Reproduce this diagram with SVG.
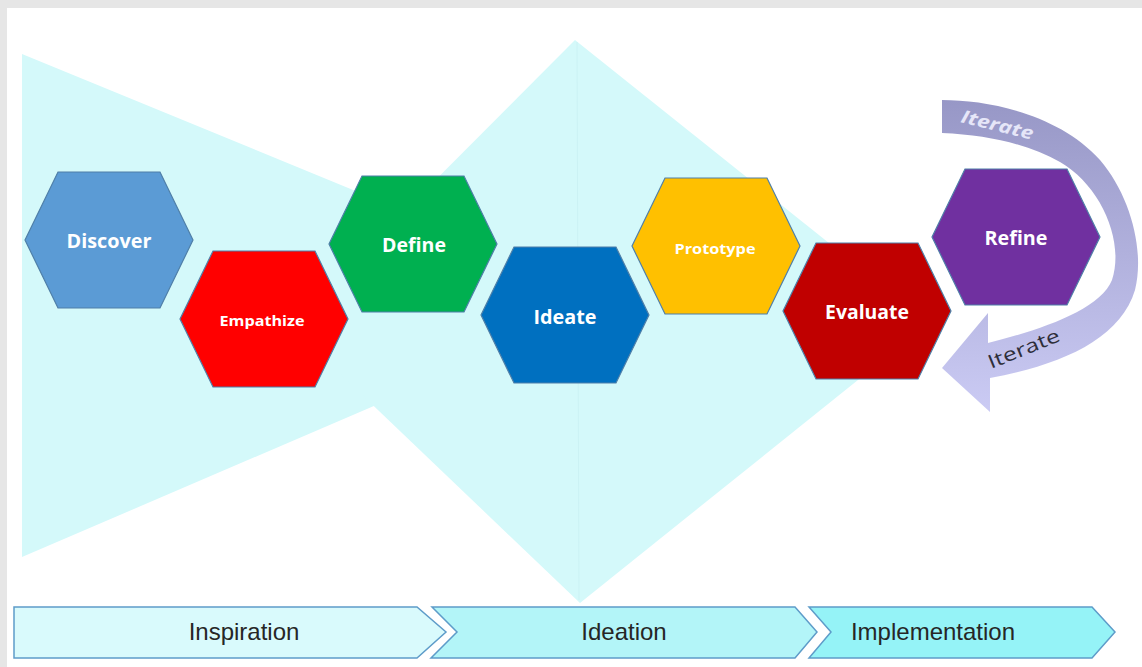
<svg xmlns="http://www.w3.org/2000/svg" width="1142" height="667" viewBox="0 0 1142 667">
<style>
.hex{stroke:#4F7FA8;stroke-width:1.2}
.lbl{font-family:"Open Sans","Noto Sans","Liberation Sans",sans-serif;font-weight:700;fill:#FFFFFF;text-anchor:middle}
.big{font-size:19px}
.small{font-size:14px}
.chev{stroke:#5E9CC9;stroke-width:1.5}
.phase{font-family:"Liberation Sans",Arial,sans-serif;font-size:24px;fill:#262626;text-anchor:middle}
.bg{fill:#D4F9FA}
</style>
<defs>
<polygon id="hex" points="-84,0 -51,-68 51,-68 84,0 51,68 -51,68"/>
<linearGradient id="iterGrad" gradientUnits="userSpaceOnUse" x1="0" y1="100" x2="0" y2="412">
<stop offset="0" stop-color="#9797C6"/>
<stop offset="1" stop-color="#CBCBF4"/>
</linearGradient>
</defs>

<rect x="0" y="0" width="1142" height="667" fill="#E6E6E6"/>
<rect x="7" y="8" width="1135" height="659" fill="#FFFFFF"/>

<g id="background">
<polygon class="bg" points="22,54 22,557 621,300"/>
<polygon class="bg" points="290,326 575,40 929,323 580,603"/>
<line x1="577" y1="42" x2="579" y2="600" stroke="#CBF2F4" stroke-width="1"/>
</g>

<g id="phases">
<g id="phase-inspiration">
<polygon class="chev" fill="#D9FAFC" points="14,607 417,607 446,632 417,658 14,658"/>
<text class="phase" x="244" y="640">Inspiration</text>
</g>
<g id="phase-ideation">
<polygon class="chev" fill="#B3F5F8" points="432,607 795,607 817,632 795,658 431,658 457,632"/>
<text class="phase" x="624" y="640">Ideation</text>
</g>
<g id="phase-implementation">
<polygon class="chev" fill="#95F3F7" points="809,607 1092,607 1115,632 1092,658 809,658 831,632"/>
<text class="phase" x="933" y="640">Implementation</text>
</g>
</g>

<g id="connectors">
<path d="M942,100 C990,100 1060,115 1100,160 C1130,195 1145,250 1135,290 C1120,340 1060,365 990,378 L990,412 L942,368 L988,313 L988,343 C1040,330 1100,310 1112,280 C1125,240 1100,185 1060,162 C1030,145 990,135 942,133 Z" fill="url(#iterGrad)"/>
<text transform="translate(960,122) rotate(14)" font-family="'Open Sans','Noto Sans',sans-serif" font-style="italic" font-weight="700" font-size="18" fill="#E6E6F8" textLength="74" lengthAdjust="spacingAndGlyphs">Iterate</text>
<text transform="translate(991,369) rotate(-22)" font-family="'Open Sans','Noto Sans',sans-serif" font-size="19" fill="#2E2E3A" textLength="76" lengthAdjust="spacingAndGlyphs">Iterate</text>
</g>

<g id="node-discover">
<use href="#hex" class="hex" x="109" y="240" fill="#5B9BD5"/>
<text class="lbl big" x="109" y="248" textLength="85" lengthAdjust="spacingAndGlyphs">Discover</text>
</g>
<g id="node-empathize">
<use href="#hex" class="hex" x="264" y="319" fill="#FF0000"/>
<text class="lbl small" x="262" y="326" textLength="85" lengthAdjust="spacingAndGlyphs">Empathize</text>
</g>
<g id="node-define">
<use href="#hex" class="hex" x="413" y="244" fill="#00B050"/>
<text class="lbl big" x="414" y="252" textLength="64" lengthAdjust="spacingAndGlyphs">Define</text>
</g>
<g id="node-ideate">
<use href="#hex" class="hex" x="565" y="315" fill="#0070C0"/>
<text class="lbl big" x="565" y="324" textLength="63" lengthAdjust="spacingAndGlyphs">Ideate</text>
</g>
<g id="node-prototype">
<use href="#hex" class="hex" x="716" y="246" fill="#FFC000"/>
<text class="lbl small" x="715" y="254" textLength="81" lengthAdjust="spacingAndGlyphs">Prototype</text>
</g>
<g id="node-evaluate">
<use href="#hex" class="hex" x="867" y="311" fill="#C00000"/>
<text class="lbl big" x="867" y="319" textLength="84" lengthAdjust="spacingAndGlyphs">Evaluate</text>
</g>
<g id="node-refine">
<use href="#hex" class="hex" x="1016" y="237" fill="#7030A0"/>
<text class="lbl big" x="1016" y="245" textLength="63" lengthAdjust="spacingAndGlyphs">Refine</text>
</g>
</svg>
